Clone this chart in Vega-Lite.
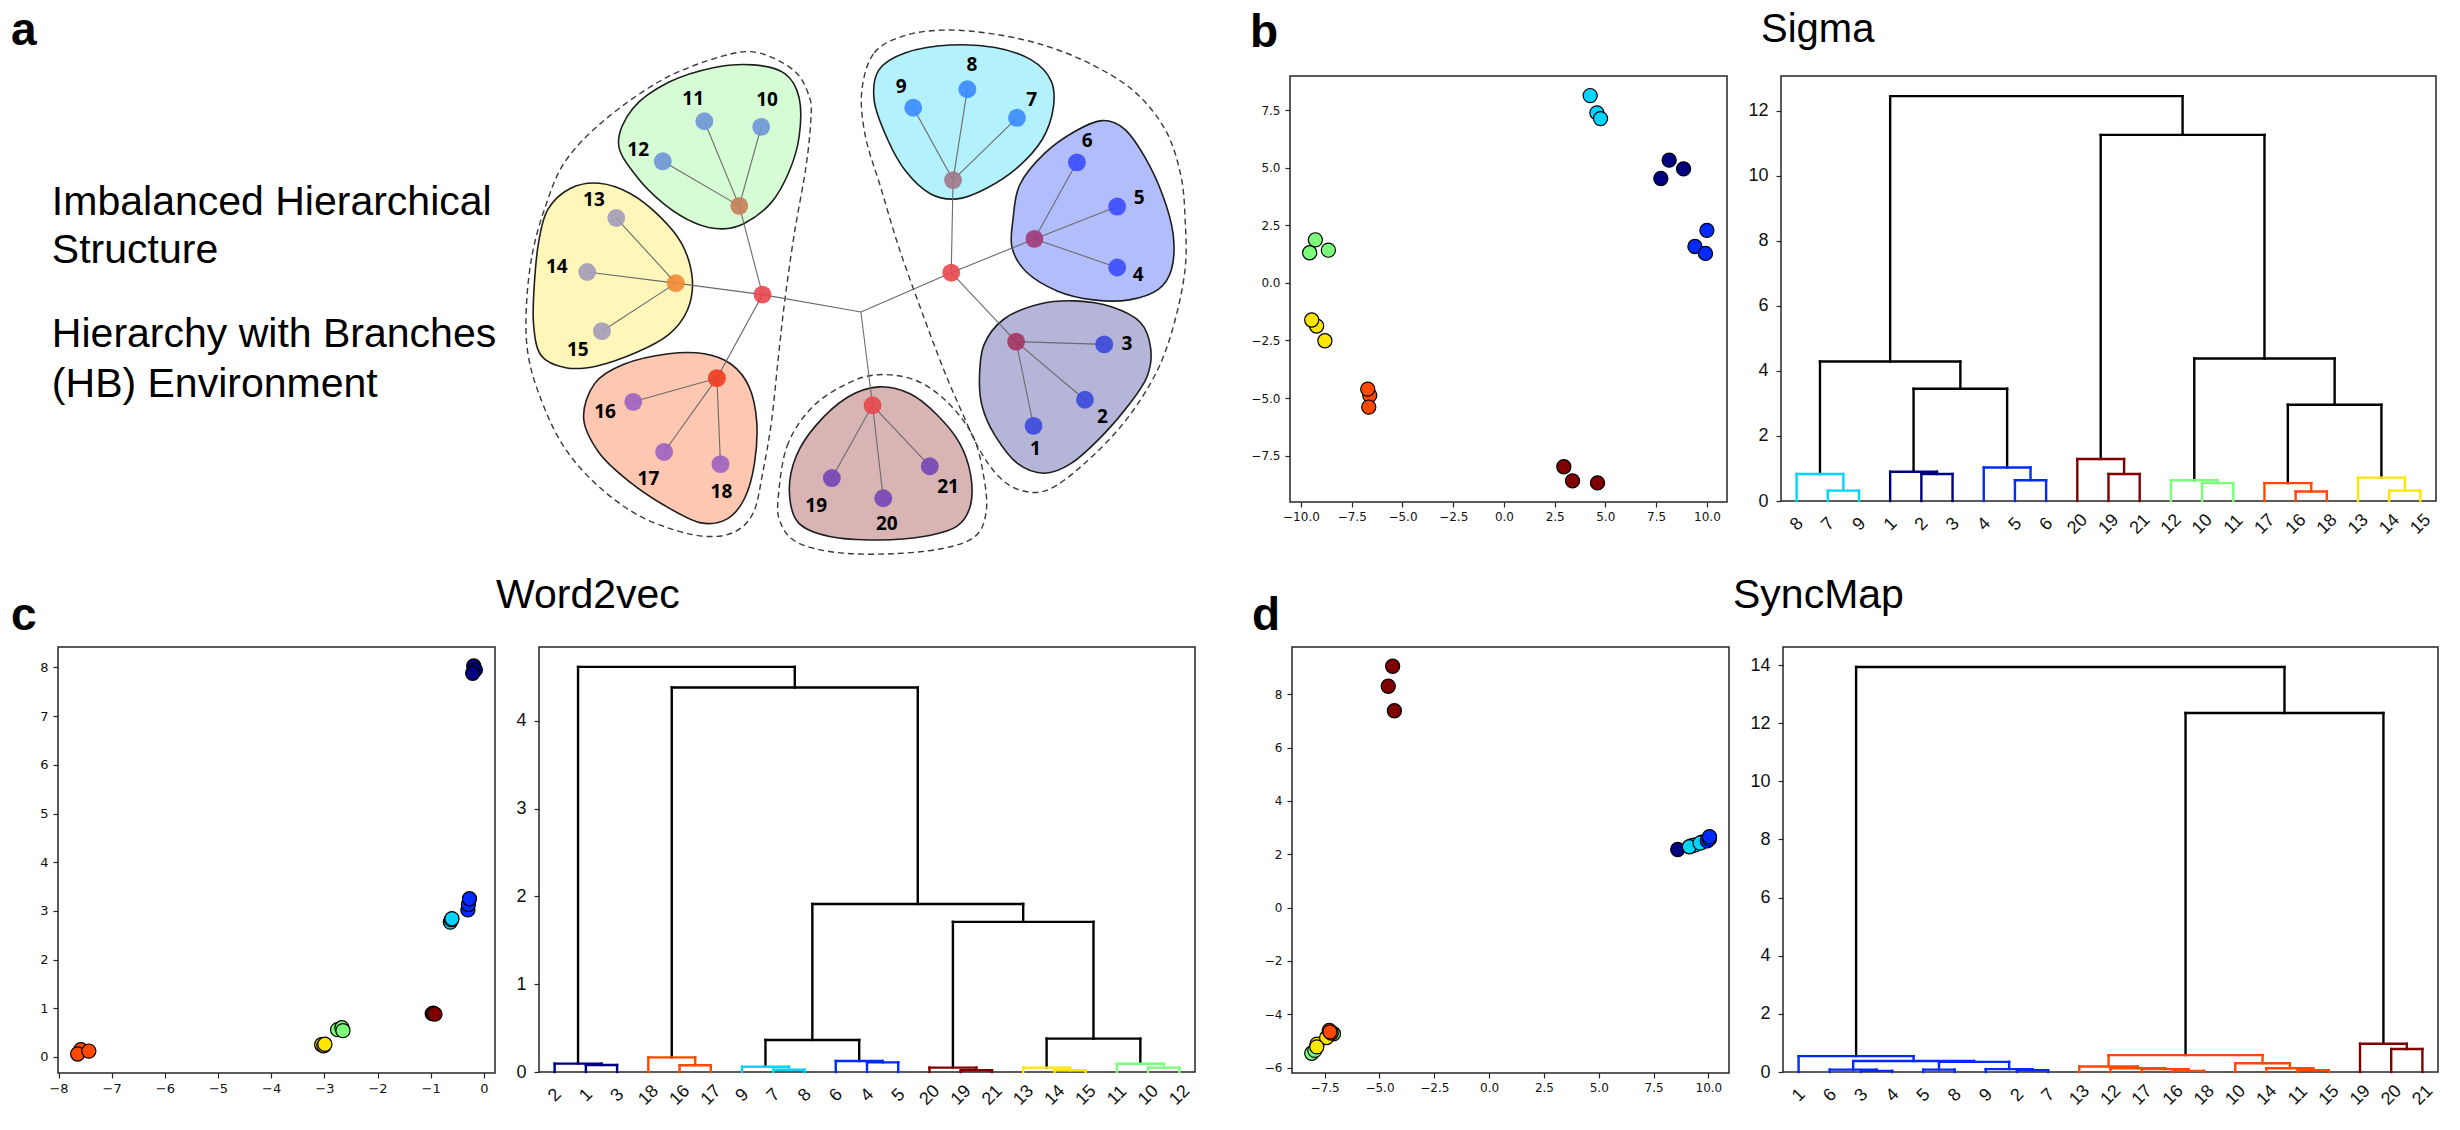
{
"$schema": "https://vega.github.io/schema/vega-lite/v6.json",
"background": "white",
"padding": {"left": 10, "top": 8, "right": 5, "bottom": 5},
"config": {
 "font": "Liberation Sans",
 "view": {"stroke": "#262626", "strokeWidth": 1.5},
 "axis": {"grid": false, "domain": false, "tickColor": "#262626", "tickWidth": 1.2, "labelColor": "#111", "labelFlush": false, "labelOverlap": false},
 "title": {"anchor": "start", "frame": "group", "baseline": "alphabetic", "color": "#000", "font": "Liberation Sans"}
},
"datasets": {
 "pts": [
  {"p":"b","g":"navy","x":8.14,"y":5.33},{"p":"b","g":"navy","x":8.85,"y":4.95},{"p":"b","g":"navy","x":7.73,"y":4.53},
  {"p":"b","g":"blue","x":10.0,"y":2.28},{"p":"b","g":"blue","x":9.41,"y":1.58},{"p":"b","g":"blue","x":9.93,"y":1.28},
  {"p":"b","g":"cyan","x":4.25,"y":8.13},{"p":"b","g":"cyan","x":4.58,"y":7.38},{"p":"b","g":"cyan","x":4.76,"y":7.13},
  {"p":"b","g":"green","x":-9.29,"y":1.87},{"p":"b","g":"green","x":-9.57,"y":1.31},{"p":"b","g":"green","x":-8.65,"y":1.42},
  {"p":"b","g":"yellow","x":-9.23,"y":-1.87},{"p":"b","g":"yellow","x":-9.47,"y":-1.61},{"p":"b","g":"yellow","x":-8.82,"y":-2.51},
  {"p":"b","g":"orange","x":-6.61,"y":-4.88},{"p":"b","g":"orange","x":-6.71,"y":-4.61},{"p":"b","g":"orange","x":-6.66,"y":-5.39},
  {"p":"b","g":"darkred","x":2.95,"y":-7.98},{"p":"b","g":"darkred","x":3.38,"y":-8.59},{"p":"b","g":"darkred","x":4.61,"y":-8.68},
  {"p":"c","g":"navy","x":-0.19,"y":8.03},{"p":"c","g":"navy","x":-0.16,"y":7.95},{"p":"c","g":"navy","x":-0.21,"y":7.88},
  {"p":"c","g":"blue","x":-0.30,"y":3.02},{"p":"c","g":"blue","x":-0.29,"y":3.13},{"p":"c","g":"blue","x":-0.27,"y":3.25},
  {"p":"c","g":"cyan","x":-0.63,"y":2.77},{"p":"c","g":"cyan","x":-0.61,"y":2.82},{"p":"c","g":"cyan","x":-0.60,"y":2.84},
  {"p":"c","g":"darkred","x":-0.97,"y":0.89},{"p":"c","g":"darkred","x":-0.95,"y":0.90},{"p":"c","g":"darkred","x":-0.92,"y":0.88},
  {"p":"c","g":"green","x":-2.75,"y":0.56},{"p":"c","g":"green","x":-2.67,"y":0.60},{"p":"c","g":"green","x":-2.65,"y":0.54},
  {"p":"c","g":"yellow","x":-3.05,"y":0.25},{"p":"c","g":"yellow","x":-3.01,"y":0.23},{"p":"c","g":"yellow","x":-2.99,"y":0.26},
  {"p":"c","g":"orange","x":-7.58,"y":0.15},{"p":"c","g":"orange","x":-7.64,"y":0.06},{"p":"c","g":"orange","x":-7.43,"y":0.12},
  {"p":"d","g":"darkred","x":-4.40,"y":9.05},{"p":"d","g":"darkred","x":-4.60,"y":8.30},{"p":"d","g":"darkred","x":-4.32,"y":7.38},
  {"p":"d","g":"navy","x":8.60,"y":2.18},{"p":"d","g":"navy","x":9.25,"y":2.32},{"p":"d","g":"navy","x":9.70,"y":2.45},
  {"p":"d","g":"cyan","x":9.40,"y":2.35},{"p":"d","g":"cyan","x":9.13,"y":2.28},{"p":"d","g":"cyan","x":9.62,"y":2.42},
  {"p":"d","g":"blue","x":9.95,"y":2.50},{"p":"d","g":"blue","x":10.05,"y":2.58},{"p":"d","g":"blue","x":10.05,"y":2.66},
  {"p":"d","g":"green","x":-8.09,"y":-5.46},{"p":"d","g":"green","x":-7.10,"y":-4.73},{"p":"d","g":"green","x":-7.95,"y":-5.35},
  {"p":"d","g":"yellow","x":-7.85,"y":-5.12},{"p":"d","g":"yellow","x":-7.41,"y":-4.87},{"p":"d","g":"yellow","x":-7.86,"y":-5.22},
  {"p":"d","g":"orange","x":-7.20,"y":-4.70},{"p":"d","g":"orange","x":-7.29,"y":-4.60},{"p":"d","g":"orange","x":-7.26,"y":-4.66}
 ],
 "links": [
  {"p":"b","c":"cyan","xl":15,"xr":25,"yl":0,"yr":0,"h":0.32},
  {"p":"b","c":"cyan","xl":5,"xr":20,"yl":0,"yr":0.32,"h":0.83},
  {"p":"b","c":"navy","xl":45,"xr":55,"yl":0,"yr":0,"h":0.83},
  {"p":"b","c":"navy","xl":35,"xr":50,"yl":0,"yr":0.83,"h":0.90},
  {"p":"b","c":"blue","xl":75,"xr":85,"yl":0,"yr":0,"h":0.64},
  {"p":"b","c":"blue","xl":65,"xr":80,"yl":0,"yr":0.64,"h":1.03},
  {"p":"b","c":"darkred","xl":105,"xr":115,"yl":0,"yr":0,"h":0.83},
  {"p":"b","c":"darkred","xl":95,"xr":110,"yl":0,"yr":0.83,"h":1.29},
  {"p":"b","c":"green","xl":135,"xr":145,"yl":0,"yr":0,"h":0.55},
  {"p":"b","c":"green","xl":125,"xr":140,"yl":0,"yr":0.55,"h":0.64},
  {"p":"b","c":"orange","xl":165,"xr":175,"yl":0,"yr":0,"h":0.29},
  {"p":"b","c":"orange","xl":155,"xr":170,"yl":0,"yr":0.29,"h":0.55},
  {"p":"b","c":"yellow","xl":195,"xr":205,"yl":0,"yr":0,"h":0.32},
  {"p":"b","c":"yellow","xl":185,"xr":200,"yl":0,"yr":0.32,"h":0.72},
  {"p":"b","c":"black","xl":42.5,"xr":72.5,"yl":0.90,"yr":1.03,"h":3.45},
  {"p":"b","c":"black","xl":12.5,"xr":57.5,"yl":0.83,"yr":3.45,"h":4.29},
  {"p":"b","c":"black","xl":162.5,"xr":192.5,"yl":0.55,"yr":0.72,"h":2.96},
  {"p":"b","c":"black","xl":132.5,"xr":177.5,"yl":0.64,"yr":2.96,"h":4.38},
  {"p":"b","c":"black","xl":102.5,"xr":155,"yl":1.29,"yr":4.38,"h":11.26},
  {"p":"b","c":"black","xl":35,"xr":128.75,"yl":4.29,"yr":11.26,"h":12.45},
  {"p":"c","c":"navy","xl":15,"xr":25,"yl":0,"yr":0,"h":0.08},
  {"p":"c","c":"navy","xl":5,"xr":20,"yl":0,"yr":0.08,"h":0.095},
  {"p":"c","c":"orange","xl":45,"xr":55,"yl":0,"yr":0,"h":0.077},
  {"p":"c","c":"orange","xl":35,"xr":50,"yl":0,"yr":0.077,"h":0.167},
  {"p":"c","c":"cyan","xl":75,"xr":85,"yl":0,"yr":0,"h":0.026},
  {"p":"c","c":"cyan","xl":65,"xr":80,"yl":0,"yr":0.026,"h":0.06},
  {"p":"c","c":"blue","xl":105,"xr":115,"yl":0,"yr":0,"h":0.11},
  {"p":"c","c":"blue","xl":95,"xr":110,"yl":0,"yr":0.11,"h":0.125},
  {"p":"c","c":"darkred","xl":135,"xr":145,"yl":0,"yr":0,"h":0.02},
  {"p":"c","c":"darkred","xl":125,"xr":140,"yl":0,"yr":0.02,"h":0.05},
  {"p":"c","c":"yellow","xl":165,"xr":175,"yl":0,"yr":0,"h":0.02},
  {"p":"c","c":"yellow","xl":155,"xr":170,"yl":0,"yr":0.02,"h":0.05},
  {"p":"c","c":"green","xl":195,"xr":205,"yl":0,"yr":0,"h":0.05},
  {"p":"c","c":"green","xl":185,"xr":200,"yl":0,"yr":0.05,"h":0.094},
  {"p":"c","c":"black","xl":72.5,"xr":102.5,"yl":0.06,"yr":0.125,"h":0.365},
  {"p":"c","c":"black","xl":162.5,"xr":192.5,"yl":0.05,"yr":0.094,"h":0.38},
  {"p":"c","c":"black","xl":132.5,"xr":177.5,"yl":0.05,"yr":0.38,"h":1.71},
  {"p":"c","c":"black","xl":87.5,"xr":155,"yl":0.365,"yr":1.71,"h":1.914},
  {"p":"c","c":"black","xl":42.5,"xr":121.25,"yl":0.167,"yr":1.914,"h":4.378},
  {"p":"c","c":"black","xl":12.5,"xr":81.875,"yl":0.095,"yr":4.378,"h":4.614},
  {"p":"d","c":"blue","xl":25,"xr":35,"yl":0,"yr":0,"h":0.04},
  {"p":"d","c":"blue","xl":15,"xr":30,"yl":0,"yr":0.04,"h":0.08},
  {"p":"d","c":"blue","xl":45,"xr":55,"yl":0,"yr":0,"h":0.08},
  {"p":"d","c":"blue","xl":75,"xr":85,"yl":0,"yr":0,"h":0.06},
  {"p":"d","c":"blue","xl":65,"xr":80,"yl":0,"yr":0.06,"h":0.10},
  {"p":"d","c":"blue","xl":50,"xr":72.5,"yl":0.08,"yr":0.10,"h":0.35},
  {"p":"d","c":"blue","xl":22.5,"xr":61.25,"yl":0.08,"yr":0.35,"h":0.376},
  {"p":"d","c":"blue","xl":5,"xr":41.875,"yl":0,"yr":0.376,"h":0.545},
  {"p":"d","c":"orange","xl":125,"xr":135,"yl":0,"yr":0,"h":0.04},
  {"p":"d","c":"orange","xl":115,"xr":130,"yl":0,"yr":0.04,"h":0.10},
  {"p":"d","c":"orange","xl":105,"xr":122.5,"yl":0,"yr":0.10,"h":0.13},
  {"p":"d","c":"orange","xl":95,"xr":113.75,"yl":0,"yr":0.13,"h":0.19},
  {"p":"d","c":"orange","xl":165,"xr":175,"yl":0,"yr":0,"h":0.06},
  {"p":"d","c":"orange","xl":155,"xr":170,"yl":0,"yr":0.06,"h":0.13},
  {"p":"d","c":"orange","xl":145,"xr":162.5,"yl":0,"yr":0.13,"h":0.30},
  {"p":"d","c":"orange","xl":104.375,"xr":153.75,"yl":0.19,"yr":0.30,"h":0.58},
  {"p":"d","c":"darkred","xl":195,"xr":205,"yl":0,"yr":0,"h":0.79},
  {"p":"d","c":"darkred","xl":185,"xr":200,"yl":0,"yr":0.79,"h":0.97},
  {"p":"d","c":"black","xl":129.06,"xr":192.5,"yl":0.58,"yr":0.97,"h":12.35},
  {"p":"d","c":"black","xl":23.44,"xr":160.78,"yl":0.545,"yr":12.35,"h":13.93}
 ],
 "nodes": [
  {"n":"hub","grp":"hub","x":760,"y":885},
  {"n":"L","grp":"red","x":540,"y":835},{"n":"R","grp":"red","x":962,"y":772},{"n":"B","grp":"red","x":786,"y":1153},
  {"n":"G","grp":"cG","x":488,"y":580},{"n":"Y","grp":"cY","x":346,"y":802},{"n":"O","grp":"cO","x":438,"y":1075},
  {"n":"C","grp":"cC","x":966,"y":506},{"n":"P","grp":"cP","x":1148,"y":675},{"n":"N","grp":"cN","x":1107,"y":970},
  {"n":"1","grp":"lN","x":1146,"y":1212},{"n":"2","grp":"lN","x":1261,"y":1137},{"n":"3","grp":"lN","x":1304,"y":978},
  {"n":"4","grp":"lP","x":1333,"y":757},{"n":"5","grp":"lP","x":1333,"y":582},{"n":"6","grp":"lP","x":1243,"y":455},
  {"n":"7","grp":"lC","x":1109,"y":327},{"n":"8","grp":"lC","x":998,"y":245},{"n":"9","grp":"lC","x":877,"y":298},
  {"n":"10","grp":"lG","x":537,"y":353},{"n":"11","grp":"lG","x":410,"y":337},{"n":"12","grp":"lG","x":317,"y":452},
  {"n":"13","grp":"lY","x":213,"y":615},{"n":"14","grp":"lY","x":148,"y":770},{"n":"15","grp":"lY","x":181,"y":940},
  {"n":"16","grp":"lO","x":251,"y":1143},{"n":"17","grp":"lO","x":320,"y":1287},{"n":"18","grp":"lO","x":446,"y":1322},
  {"n":"19","grp":"lB","x":695,"y":1362},{"n":"20","grp":"lB","x":810,"y":1420},{"n":"21","grp":"lB","x":914,"y":1328}
 ],
 "edges": [
  {"a":"hub","b":"L"},{"a":"hub","b":"R"},{"a":"hub","b":"B"},
  {"a":"L","b":"G"},{"a":"L","b":"Y"},{"a":"L","b":"O"},
  {"a":"R","b":"C"},{"a":"R","b":"P"},{"a":"R","b":"N"},
  {"a":"G","b":"10"},{"a":"G","b":"11"},{"a":"G","b":"12"},
  {"a":"Y","b":"13"},{"a":"Y","b":"14"},{"a":"Y","b":"15"},
  {"a":"O","b":"16"},{"a":"O","b":"17"},{"a":"O","b":"18"},
  {"a":"B","b":"19"},{"a":"B","b":"20"},{"a":"B","b":"21"},
  {"a":"C","b":"7"},{"a":"C","b":"8"},{"a":"C","b":"9"},
  {"a":"P","b":"4"},{"a":"P","b":"5"},{"a":"P","b":"6"},
  {"a":"N","b":"1"},{"a":"N","b":"2"},{"a":"N","b":"3"}
 ],
 "nlabels": [
  {"t":"1","x":1150,"y":1278},{"t":"2","x":1300,"y":1188},{"t":"3","x":1355,"y":978},{"t":"4","x":1380,"y":778},
  {"t":"5","x":1382,"y":558},{"t":"6","x":1266,"y":395},{"t":"7","x":1142,"y":277},{"t":"8","x":1008,"y":175},
  {"t":"9","x":850,"y":238},{"t":"10","x":550,"y":277},{"t":"11","x":385,"y":272},{"t":"12","x":262,"y":420},
  {"t":"13","x":163,"y":562},{"t":"14","x":80,"y":755},{"t":"15","x":127,"y":995},{"t":"16","x":188,"y":1172},
  {"t":"17","x":285,"y":1365},{"t":"18","x":448,"y":1403},{"t":"19","x":660,"y":1443},{"t":"20","x":818,"y":1495},
  {"t":"21","x":955,"y":1388}
 ],
 "texts": [
  {"t":"Imbalanced Hierarchical","x":-1049,"y":605},
  {"t":"Structure","x":-1049,"y":745},
  {"t":"Hierarchy with Branches","x":-1049,"y":985},
  {"t":"(HB) Environment","x":-1049,"y":1128}
 ],
 "blobs": [
  {"id":"G","i":0,"x":218,"y":400},{"id":"G","i":1,"x":250,"y":300},{"id":"G","i":2,"x":330,"y":225},{"id":"G","i":3,"x":430,"y":183},{"id":"G","i":4,"x":520,"y":175},{"id":"G","i":5,"x":590,"y":200},{"id":"G","i":6,"x":622,"y":270},{"id":"G","i":7,"x":622,"y":380},{"id":"G","i":8,"x":600,"y":480},{"id":"G","i":9,"x":560,"y":570},{"id":"G","i":10,"x":500,"y":630},{"id":"G","i":11,"x":450,"y":646},{"id":"G","i":12,"x":390,"y":630},{"id":"G","i":13,"x":320,"y":575},{"id":"G","i":14,"x":255,"y":490},
  {"id":"Y","i":0,"x":40,"y":680},{"id":"Y","i":1,"x":60,"y":590},{"id":"Y","i":2,"x":110,"y":530},{"id":"Y","i":3,"x":175,"y":515},{"id":"Y","i":4,"x":245,"y":545},{"id":"Y","i":5,"x":310,"y":610},{"id":"Y","i":6,"x":360,"y":690},{"id":"Y","i":7,"x":383,"y":790},{"id":"Y","i":8,"x":372,"y":880},{"id":"Y","i":9,"x":330,"y":950},{"id":"Y","i":10,"x":260,"y":1000},{"id":"Y","i":11,"x":170,"y":1040},{"id":"Y","i":12,"x":100,"y":1045},{"id":"Y","i":13,"x":45,"y":1010},{"id":"Y","i":14,"x":28,"y":920},{"id":"Y","i":15,"x":30,"y":800},
  {"id":"O","i":0,"x":140,"y":1190},{"id":"O","i":1,"x":165,"y":1090},{"id":"O","i":2,"x":230,"y":1035},{"id":"O","i":3,"x":330,"y":1005},{"id":"O","i":4,"x":410,"y":1005},{"id":"O","i":5,"x":470,"y":1035},{"id":"O","i":6,"x":510,"y":1100},{"id":"O","i":7,"x":527,"y":1200},{"id":"O","i":8,"x":522,"y":1320},{"id":"O","i":9,"x":500,"y":1420},{"id":"O","i":10,"x":460,"y":1480},{"id":"O","i":11,"x":400,"y":1490},{"id":"O","i":12,"x":320,"y":1440},{"id":"O","i":13,"x":240,"y":1370},{"id":"O","i":14,"x":175,"y":1290},
  {"id":"B","i":0,"x":600,"y":1400},{"id":"B","i":1,"x":615,"y":1300},{"id":"B","i":2,"x":660,"y":1210},{"id":"B","i":3,"x":730,"y":1130},{"id":"B","i":4,"x":800,"y":1100},{"id":"B","i":5,"x":870,"y":1120},{"id":"B","i":6,"x":930,"y":1180},{"id":"B","i":7,"x":980,"y":1260},{"id":"B","i":8,"x":1005,"y":1350},{"id":"B","i":9,"x":1005,"y":1440},{"id":"B","i":10,"x":975,"y":1500},{"id":"B","i":11,"x":900,"y":1530},{"id":"B","i":12,"x":800,"y":1540},{"id":"B","i":13,"x":690,"y":1530},{"id":"B","i":14,"x":620,"y":1490},
  {"id":"C","i":0,"x":790,"y":280},{"id":"C","i":1,"x":800,"y":190},{"id":"C","i":2,"x":860,"y":140},{"id":"C","i":3,"x":960,"y":118},{"id":"C","i":4,"x":1060,"y":125},{"id":"C","i":5,"x":1140,"y":160},{"id":"C","i":6,"x":1185,"y":220},{"id":"C","i":7,"x":1190,"y":300},{"id":"C","i":8,"x":1165,"y":390},{"id":"C","i":9,"x":1110,"y":470},{"id":"C","i":10,"x":1040,"y":530},{"id":"C","i":11,"x":975,"y":560},{"id":"C","i":12,"x":915,"y":545},{"id":"C","i":13,"x":860,"y":480},{"id":"C","i":14,"x":820,"y":390},
  {"id":"P","i":0,"x":1098,"y":700},{"id":"P","i":1,"x":1100,"y":620},{"id":"P","i":2,"x":1115,"y":520},{"id":"P","i":3,"x":1170,"y":430},{"id":"P","i":4,"x":1240,"y":365},{"id":"P","i":5,"x":1300,"y":335},{"id":"P","i":6,"x":1350,"y":360},{"id":"P","i":7,"x":1395,"y":440},{"id":"P","i":8,"x":1435,"y":550},{"id":"P","i":9,"x":1458,"y":660},{"id":"P","i":10,"x":1455,"y":760},{"id":"P","i":11,"x":1425,"y":820},{"id":"P","i":12,"x":1360,"y":850},{"id":"P","i":13,"x":1280,"y":850},{"id":"P","i":14,"x":1200,"y":825},{"id":"P","i":15,"x":1130,"y":770},
  {"id":"N","i":0,"x":1032,"y":1160},{"id":"N","i":1,"x":1025,"y":1080},{"id":"N","i":2,"x":1035,"y":980},{"id":"N","i":3,"x":1080,"y":905},{"id":"N","i":4,"x":1160,"y":862},{"id":"N","i":5,"x":1240,"y":853},{"id":"N","i":6,"x":1320,"y":870},{"id":"N","i":7,"x":1385,"y":915},{"id":"N","i":8,"x":1408,"y":990},{"id":"N","i":9,"x":1400,"y":1070},{"id":"N","i":10,"x":1360,"y":1150},{"id":"N","i":11,"x":1300,"y":1240},{"id":"N","i":12,"x":1230,"y":1320},{"id":"N","i":13,"x":1170,"y":1348},{"id":"N","i":14,"x":1110,"y":1320},{"id":"N","i":15,"x":1060,"y":1240}
 ],
 "dashes": [
  {"id":"L","i":0,"x":12,"y":870},{"id":"L","i":1,"x":25,"y":720},{"id":"L","i":2,"x":55,"y":580},{"id":"L","i":3,"x":100,"y":450},{"id":"L","i":4,"x":190,"y":330},{"id":"L","i":5,"x":320,"y":215},{"id":"L","i":6,"x":450,"y":150},{"id":"L","i":7,"x":530,"y":140},{"id":"L","i":8,"x":611,"y":192},{"id":"L","i":9,"x":645,"y":268},{"id":"L","i":10,"x":648,"y":335},{"id":"L","i":11,"x":637,"y":469},{"id":"L","i":12,"x":611,"y":661},{"id":"L","i":13,"x":590,"y":850},{"id":"L","i":14,"x":575,"y":1020},{"id":"L","i":15,"x":560,"y":1200},{"id":"L","i":16,"x":540,"y":1350},{"id":"L","i":17,"x":520,"y":1460},{"id":"L","i":18,"x":480,"y":1515},{"id":"L","i":19,"x":420,"y":1530},{"id":"L","i":20,"x":340,"y":1510},{"id":"L","i":21,"x":250,"y":1460},{"id":"L","i":22,"x":160,"y":1370},{"id":"L","i":23,"x":90,"y":1260},{"id":"L","i":24,"x":40,"y":1120},{"id":"L","i":25,"x":15,"y":1000},
  {"id":"R","i":0,"x":762,"y":250},{"id":"R","i":1,"x":790,"y":140},{"id":"R","i":2,"x":860,"y":90},{"id":"R","i":3,"x":950,"y":75},{"id":"R","i":4,"x":1050,"y":85},{"id":"R","i":5,"x":1160,"y":115},{"id":"R","i":6,"x":1270,"y":170},{"id":"R","i":7,"x":1370,"y":250},{"id":"R","i":8,"x":1440,"y":360},{"id":"R","i":9,"x":1475,"y":490},{"id":"R","i":10,"x":1485,"y":620},{"id":"R","i":11,"x":1485,"y":760},{"id":"R","i":12,"x":1460,"y":920},{"id":"R","i":13,"x":1420,"y":1060},{"id":"R","i":14,"x":1350,"y":1200},{"id":"R","i":15,"x":1260,"y":1320},{"id":"R","i":16,"x":1180,"y":1395},{"id":"R","i":17,"x":1120,"y":1398},{"id":"R","i":18,"x":1070,"y":1360},{"id":"R","i":19,"x":1025,"y":1280},{"id":"R","i":20,"x":985,"y":1170},{"id":"R","i":21,"x":945,"y":1050},{"id":"R","i":22,"x":895,"y":880},{"id":"R","i":23,"x":845,"y":700},{"id":"R","i":24,"x":805,"y":530},{"id":"R","i":25,"x":770,"y":380},
  {"id":"D","i":0,"x":575,"y":1420},{"id":"D","i":1,"x":595,"y":1270},{"id":"D","i":2,"x":650,"y":1160},{"id":"D","i":3,"x":730,"y":1090},{"id":"D","i":4,"x":800,"y":1065},{"id":"D","i":5,"x":880,"y":1080},{"id":"D","i":6,"x":950,"y":1140},{"id":"D","i":7,"x":1010,"y":1240},{"id":"D","i":8,"x":1035,"y":1360},{"id":"D","i":9,"x":1040,"y":1460},{"id":"D","i":10,"x":1015,"y":1530},{"id":"D","i":11,"x":940,"y":1565},{"id":"D","i":12,"x":820,"y":1580},{"id":"D","i":13,"x":700,"y":1575},{"id":"D","i":14,"x":615,"y":1545},{"id":"D","i":15,"x":580,"y":1490}
 ]
},
"spacing": 17,
"resolve": {"scale": {"color": "independent", "fill": "independent"}},
"vconcat": [
 {
  "bounds": "flush",
  "spacing": 54,
  "resolve": {"scale": {"color": "independent", "fill": "independent"}},
  "hconcat": [
   {
    "width": 1178, "height": 426,
    "view": {"stroke": null},
    "title": {"text": "a", "fontSize": 46, "fontWeight": "bold", "dx": -47, "offset": -28},
    "layer": [
     {
      "data": {"name": "dashes"},
      "mark": {"type": "line", "interpolate": "cardinal-closed", "stroke": "#3a3a3a", "strokeWidth": 1.4, "strokeDash": [6, 4]},
      "encoding": {
       "x": {"field": "x", "type": "quantitative", "scale": {"domain": [-1035.3, 1598.7], "nice": false, "zero": false}, "axis": null},
       "y": {"field": "y", "type": "quantitative", "scale": {"domain": [206.9, 1430.8], "nice": false, "zero": false, "reverse": true}, "axis": null},
       "detail": {"field": "id"},
       "order": {"field": "i", "type": "quantitative"}
      }
     },
     {
      "data": {"name": "blobs"},
      "mark": {"type": "line", "interpolate": "cardinal-closed", "stroke": "#1e1e1e", "strokeWidth": 1.6},
      "encoding": {
       "x": {"field": "x", "type": "quantitative", "scale": {"domain": [-1035.3, 1598.7], "nice": false, "zero": false}, "axis": null},
       "y": {"field": "y", "type": "quantitative", "scale": {"domain": [206.9, 1430.8], "nice": false, "zero": false, "reverse": true}, "axis": null},
       "detail": {"field": "id"},
       "order": {"field": "i", "type": "quantitative"},
       "fill": {"field": "id", "type": "nominal", "legend": null, "scale": {"domain": ["G","Y","O","B","C","P","N"], "range": ["#d6fcd6","#fff7b9","#fdc7b1","#d9b4b4","#b3f1fc","#b2befb","#b4b5d8"]}}
      }
     },
     {
      "data": {"name": "edges"},
      "transform": [
       {"lookup": "a", "from": {"data": {"name": "nodes"}, "key": "n", "fields": ["x", "y"]}, "as": ["x1", "y1"]},
       {"lookup": "b", "from": {"data": {"name": "nodes"}, "key": "n", "fields": ["x", "y"]}, "as": ["x2", "y2"]}
      ],
      "mark": {"type": "rule", "color": "#6a6a6a", "strokeWidth": 1.1},
      "encoding": {
       "x": {"field": "x1", "type": "quantitative", "scale": {"domain": [-1035.3, 1598.7], "nice": false, "zero": false}, "axis": null},
       "y": {"field": "y1", "type": "quantitative", "scale": {"domain": [206.9, 1430.8], "nice": false, "zero": false, "reverse": true}, "axis": null},
       "x2": {"field": "x2"},
       "y2": {"field": "y2"}
      }
     },
     {
      "data": {"name": "nodes"},
      "transform": [{"filter": "datum.grp != 'hub'"}],
      "mark": {"type": "point", "filled": true, "size": 320, "opacity": 0.9},
      "encoding": {
       "x": {"field": "x", "type": "quantitative", "scale": {"domain": [-1035.3, 1598.7], "nice": false, "zero": false}, "axis": null},
       "y": {"field": "y", "type": "quantitative", "scale": {"domain": [206.9, 1430.8], "nice": false, "zero": false, "reverse": true}, "axis": null},
       "color": {"field": "grp", "type": "nominal", "legend": null, "scale": {"domain": ["red","cG","cY","cO","cC","cP","cN","lG","lY","lO","lB","lC","lP","lN"], "range": ["#e8474f","#c57d55","#f08a35","#f03a22","#a0788a","#a23a78","#a23560","#6f95d8","#a39bba","#9c62c2","#7446b6","#3a8aff","#3b4dff","#3b48dc"]}}
      }
     },
     {
      "data": {"name": "nlabels"},
      "mark": {"type": "text", "font": "Open Sans", "fontWeight": "bold", "fontSize": 19, "align": "center", "baseline": "middle", "color": "#000"},
      "encoding": {
       "x": {"field": "x", "type": "quantitative", "scale": {"domain": [-1035.3, 1598.7], "nice": false, "zero": false}, "axis": null},
       "y": {"field": "y", "type": "quantitative", "scale": {"domain": [206.9, 1430.8], "nice": false, "zero": false, "reverse": true}, "axis": null},
       "text": {"field": "t"}
      }
     },
     {
      "data": {"name": "texts"},
      "mark": {"type": "text", "font": "Liberation Sans", "fontSize": 41, "align": "left", "baseline": "alphabetic", "color": "#000"},
      "encoding": {
       "x": {"field": "x", "type": "quantitative", "scale": {"domain": [-1035.3, 1598.7], "nice": false, "zero": false}, "axis": null},
       "y": {"field": "y", "type": "quantitative", "scale": {"domain": [206.9, 1430.8], "nice": false, "zero": false, "reverse": true}, "axis": null},
       "text": {"field": "t"}
      }
     }
    ]
   },
   {
    "width": 437, "height": 426,
    "title": {"text": "b", "fontSize": 46, "fontWeight": "bold", "dx": -40, "offset": 19},
    "data": {"name": "pts"},
    "transform": [{"filter": "datum.p == 'b'"}],
    "mark": {"type": "point", "filled": true, "size": 200, "stroke": "#000", "strokeWidth": 1.2, "opacity": 1},
    "encoding": {
     "x": {"field": "x", "type": "quantitative", "scale": {"domain": [-10.54, 10.99], "nice": false, "zero": false}, "axis": {"title": null, "values": [-10, -7.5, -5, -2.5, 0, 2.5, 5, 7.5, 10], "format": ".1f", "labelFont": "DejaVu Sans", "labelFontSize": 12, "tickSize": 5, "labelPadding": 4}},
     "y": {"field": "y", "type": "quantitative", "scale": {"domain": [-9.51, 8.98], "nice": false, "zero": false}, "axis": {"title": null, "values": [-7.5, -5, -2.5, 0, 2.5, 5, 7.5], "format": ".1f", "labelFont": "DejaVu Sans", "labelFontSize": 12, "tickSize": 5, "labelPadding": 5}},
     "fill": {"field": "g", "type": "nominal", "legend": null, "scale": {"domain": ["navy","blue","cyan","green","yellow","orange","darkred"], "range": ["#000080","#002aff","#00d4ff","#7bff7b","#ffe600","#ff4900","#800000"]}}
    }
   },
   {
    "width": 655, "height": 425,
    "title": {"text": "Sigma", "fontSize": 40, "fontWeight": "normal", "dx": -20, "offset": 26},
    "data": {"name": "links"},
    "transform": [{"filter": "datum.p == 'b'"}],
    "encoding": {
     "color": {"field": "c", "type": "nominal", "legend": null, "scale": {"domain": ["navy","blue","cyan","green","yellow","orange","darkred","black"], "range": ["#000080","#002aff","#00d4ff","#7bff7b","#ffe600","#ff4900","#800000","#000000"]}}
    },
    "layer": [
     {
      "mark": {"type": "rule", "strokeWidth": 2.4, "strokeCap": "square"},
      "encoding": {
       "x": {"field": "xl", "type": "quantitative", "scale": {"domain": [0, 210], "nice": false, "zero": false}, "axis": {"title": null, "values": [5,15,25,35,45,55,65,75,85,95,105,115,125,135,145,155,165,175,185,195,205], "labelExpr": "['8','7','9','1','2','3','4','5','6','20','19','21','12','10','11','17','16','18','13','14','15'][round((datum.value-5)/10)]", "labelAngle": -45, "labelAlign": "center", "labelBaseline": "middle", "labelPadding": 23, "ticks": false, "tickSize": 0, "labelFontSize": 18}},
       "y": {"field": "yl", "type": "quantitative", "scale": {"domain": [0, 13.07], "nice": false, "zero": false}, "axis": {"title": null, "values": [0,2,4,6,8,10,12], "labelFontSize": 18, "tickSize": 5, "labelPadding": 8}},
       "y2": {"field": "h"}
      }
     },
     {
      "mark": {"type": "rule", "strokeWidth": 2.4, "strokeCap": "square"},
      "encoding": {
       "x": {"field": "xr", "type": "quantitative", "scale": {"domain": [0, 210], "nice": false, "zero": false}, "axis": {"title": null, "values": [5,15,25,35,45,55,65,75,85,95,105,115,125,135,145,155,165,175,185,195,205], "labelExpr": "['8','7','9','1','2','3','4','5','6','20','19','21','12','10','11','17','16','18','13','14','15'][round((datum.value-5)/10)]", "labelAngle": -45, "labelAlign": "center", "labelBaseline": "middle", "labelPadding": 23, "ticks": false, "tickSize": 0, "labelFontSize": 18}},
       "y": {"field": "yr", "type": "quantitative", "scale": {"domain": [0, 13.07], "nice": false, "zero": false}, "axis": {"title": null, "values": [0,2,4,6,8,10,12], "labelFontSize": 18, "tickSize": 5, "labelPadding": 8}},
       "y2": {"field": "h"}
      }
     },
     {
      "mark": {"type": "rule", "strokeWidth": 2.4, "strokeCap": "square"},
      "encoding": {
       "x": {"field": "xl", "type": "quantitative", "scale": {"domain": [0, 210], "nice": false, "zero": false}, "axis": {"title": null, "values": [5,15,25,35,45,55,65,75,85,95,105,115,125,135,145,155,165,175,185,195,205], "labelExpr": "['8','7','9','1','2','3','4','5','6','20','19','21','12','10','11','17','16','18','13','14','15'][round((datum.value-5)/10)]", "labelAngle": -45, "labelAlign": "center", "labelBaseline": "middle", "labelPadding": 23, "ticks": false, "tickSize": 0, "labelFontSize": 18}},
       "x2": {"field": "xr"},
       "y": {"field": "h", "type": "quantitative", "scale": {"domain": [0, 13.07], "nice": false, "zero": false}, "axis": {"title": null, "values": [0,2,4,6,8,10,12], "labelFontSize": 18, "tickSize": 5, "labelPadding": 8}}
      }
     }
    ]
   }
  ]
 },
 {
  "spacing": 55,
  "resolve": {"scale": {"color": "independent", "fill": "independent"}},
  "hconcat": [
   {
    "bounds": "flush",
    "spacing": 44,
    "resolve": {"scale": {"color": "independent", "fill": "independent"}},
    "hconcat": [
     {
      "width": 437, "height": 426,
      "title": {"text": "c", "fontSize": 46, "fontWeight": "bold", "dx": -47, "offset": 7},
      "data": {"name": "pts"},
      "transform": [{"filter": "datum.p == 'c'"}],
      "mark": {"type": "point", "filled": true, "size": 200, "stroke": "#000", "strokeWidth": 1.2, "opacity": 1},
      "encoding": {
       "x": {"field": "x", "type": "quantitative", "scale": {"domain": [-8.01, 0.21], "nice": false, "zero": false}, "axis": {"title": null, "values": [-8,-7,-6,-5,-4,-3,-2,-1,0], "format": "d", "labelFont": "DejaVu Sans", "labelFontSize": 13, "tickSize": 5, "labelPadding": 4}},
       "y": {"field": "y", "type": "quantitative", "scale": {"domain": [-0.33, 8.42], "nice": false, "zero": false}, "axis": {"title": null, "values": [0,1,2,3,4,5,6,7,8], "format": "d", "labelFont": "DejaVu Sans", "labelFontSize": 13, "tickSize": 5, "labelPadding": 5}},
       "fill": {"field": "g", "type": "nominal", "legend": null, "scale": {"domain": ["navy","blue","cyan","green","yellow","orange","darkred"], "range": ["#000080","#002aff","#00d4ff","#7bff7b","#ffe600","#ff4900","#800000"]}}
      }
     },
     {
      "width": 656, "height": 425,
      "title": {"text": "Word2vec", "fontSize": 41, "fontWeight": "normal", "dx": -43, "offset": 30},
      "data": {"name": "links"},
      "transform": [{"filter": "datum.p == 'c'"}],
      "encoding": {
       "color": {"field": "c", "type": "nominal", "legend": null, "scale": {"domain": ["navy","blue","cyan","green","yellow","orange","darkred","black"], "range": ["#000080","#002aff","#00d4ff","#7bff7b","#ffe600","#ff4900","#800000","#000000"]}}
      },
      "layer": [
       {
        "mark": {"type": "rule", "strokeWidth": 2.4, "strokeCap": "square"},
        "encoding": {
         "x": {"field": "xl", "type": "quantitative", "scale": {"domain": [0, 210], "nice": false, "zero": false}, "axis": {"title": null, "values": [5,15,25,35,45,55,65,75,85,95,105,115,125,135,145,155,165,175,185,195,205], "labelExpr": "['2','1','3','18','16','17','9','7','8','6','4','5','20','19','21','13','14','15','11','10','12'][round((datum.value-5)/10)]", "labelAngle": -45, "labelAlign": "center", "labelBaseline": "middle", "labelPadding": 23, "ticks": false, "tickSize": 0, "labelFontSize": 18}},
         "y": {"field": "yl", "type": "quantitative", "scale": {"domain": [0, 4.84], "nice": false, "zero": false}, "axis": {"title": null, "values": [0,1,2,3,4], "labelFontSize": 18, "tickSize": 5, "labelPadding": 8}},
         "y2": {"field": "h"}
        }
       },
       {
        "mark": {"type": "rule", "strokeWidth": 2.4, "strokeCap": "square"},
        "encoding": {
         "x": {"field": "xr", "type": "quantitative", "scale": {"domain": [0, 210], "nice": false, "zero": false}, "axis": {"title": null, "values": [5,15,25,35,45,55,65,75,85,95,105,115,125,135,145,155,165,175,185,195,205], "labelExpr": "['2','1','3','18','16','17','9','7','8','6','4','5','20','19','21','13','14','15','11','10','12'][round((datum.value-5)/10)]", "labelAngle": -45, "labelAlign": "center", "labelBaseline": "middle", "labelPadding": 23, "ticks": false, "tickSize": 0, "labelFontSize": 18}},
         "y": {"field": "yr", "type": "quantitative", "scale": {"domain": [0, 4.84], "nice": false, "zero": false}, "axis": {"title": null, "values": [0,1,2,3,4], "labelFontSize": 18, "tickSize": 5, "labelPadding": 8}},
         "y2": {"field": "h"}
        }
       },
       {
        "mark": {"type": "rule", "strokeWidth": 2.4, "strokeCap": "square"},
        "encoding": {
         "x": {"field": "xl", "type": "quantitative", "scale": {"domain": [0, 210], "nice": false, "zero": false}, "axis": {"title": null, "values": [5,15,25,35,45,55,65,75,85,95,105,115,125,135,145,155,165,175,185,195,205], "labelExpr": "['2','1','3','18','16','17','9','7','8','6','4','5','20','19','21','13','14','15','11','10','12'][round((datum.value-5)/10)]", "labelAngle": -45, "labelAlign": "center", "labelBaseline": "middle", "labelPadding": 23, "ticks": false, "tickSize": 0, "labelFontSize": 18}},
         "x2": {"field": "xr"},
         "y": {"field": "h", "type": "quantitative", "scale": {"domain": [0, 4.84], "nice": false, "zero": false}, "axis": {"title": null, "values": [0,1,2,3,4], "labelFontSize": 18, "tickSize": 5, "labelPadding": 8}}
        }
       }
      ]
     }
    ]
   },
   {
    "bounds": "flush",
    "spacing": 54,
    "resolve": {"scale": {"color": "independent", "fill": "independent"}},
    "hconcat": [
     {
      "width": 437, "height": 426,
      "title": {"text": "d", "fontSize": 46, "fontWeight": "bold", "dx": -40, "offset": 7},
      "data": {"name": "pts"},
      "transform": [{"filter": "datum.p == 'd'"}],
      "mark": {"type": "point", "filled": true, "size": 200, "stroke": "#000", "strokeWidth": 1.2, "opacity": 1},
      "encoding": {
       "x": {"field": "x", "type": "quantitative", "scale": {"domain": [-8.99, 10.94], "nice": false, "zero": false}, "axis": {"title": null, "values": [-7.5, -5, -2.5, 0, 2.5, 5, 7.5, 10], "format": ".1f", "labelFont": "DejaVu Sans", "labelFontSize": 12, "tickSize": 5, "labelPadding": 4}},
       "y": {"field": "y", "type": "quantitative", "scale": {"domain": [-6.2, 9.77], "nice": false, "zero": false}, "axis": {"title": null, "values": [-6,-4,-2,0,2,4,6,8], "format": "d", "labelFont": "DejaVu Sans", "labelFontSize": 12, "tickSize": 5, "labelPadding": 5}},
       "fill": {"field": "g", "type": "nominal", "legend": null, "scale": {"domain": ["navy","blue","cyan","green","yellow","orange","darkred"], "range": ["#000080","#002aff","#00d4ff","#7bff7b","#ffe600","#ff4900","#800000"]}}
      }
     },
     {
      "width": 655, "height": 425,
      "title": {"text": "SyncMap", "fontSize": 41, "fontWeight": "normal", "dx": -50, "offset": 30},
      "data": {"name": "links"},
      "transform": [{"filter": "datum.p == 'd'"}],
      "encoding": {
       "color": {"field": "c", "type": "nominal", "legend": null, "scale": {"domain": ["navy","blue","cyan","green","yellow","orange","darkred","black"], "range": ["#000080","#002aff","#00d4ff","#7bff7b","#ffe600","#ff4900","#800000","#000000"]}}
      },
      "layer": [
       {
        "mark": {"type": "rule", "strokeWidth": 2.4, "strokeCap": "square"},
        "encoding": {
         "x": {"field": "xl", "type": "quantitative", "scale": {"domain": [0, 210], "nice": false, "zero": false}, "axis": {"title": null, "values": [5,15,25,35,45,55,65,75,85,95,105,115,125,135,145,155,165,175,185,195,205], "labelExpr": "['1','6','3','4','5','8','9','2','7','13','12','17','16','18','10','14','11','15','19','20','21'][round((datum.value-5)/10)]", "labelAngle": -45, "labelAlign": "center", "labelBaseline": "middle", "labelPadding": 23, "ticks": false, "tickSize": 0, "labelFontSize": 18}},
         "y": {"field": "yl", "type": "quantitative", "scale": {"domain": [0, 14.62], "nice": false, "zero": false}, "axis": {"title": null, "values": [0,2,4,6,8,10,12,14], "labelFontSize": 18, "tickSize": 5, "labelPadding": 8}},
         "y2": {"field": "h"}
        }
       },
       {
        "mark": {"type": "rule", "strokeWidth": 2.4, "strokeCap": "square"},
        "encoding": {
         "x": {"field": "xr", "type": "quantitative", "scale": {"domain": [0, 210], "nice": false, "zero": false}, "axis": {"title": null, "values": [5,15,25,35,45,55,65,75,85,95,105,115,125,135,145,155,165,175,185,195,205], "labelExpr": "['1','6','3','4','5','8','9','2','7','13','12','17','16','18','10','14','11','15','19','20','21'][round((datum.value-5)/10)]", "labelAngle": -45, "labelAlign": "center", "labelBaseline": "middle", "labelPadding": 23, "ticks": false, "tickSize": 0, "labelFontSize": 18}},
         "y": {"field": "yr", "type": "quantitative", "scale": {"domain": [0, 14.62], "nice": false, "zero": false}, "axis": {"title": null, "values": [0,2,4,6,8,10,12,14], "labelFontSize": 18, "tickSize": 5, "labelPadding": 8}},
         "y2": {"field": "h"}
        }
       },
       {
        "mark": {"type": "rule", "strokeWidth": 2.4, "strokeCap": "square"},
        "encoding": {
         "x": {"field": "xl", "type": "quantitative", "scale": {"domain": [0, 210], "nice": false, "zero": false}, "axis": {"title": null, "values": [5,15,25,35,45,55,65,75,85,95,105,115,125,135,145,155,165,175,185,195,205], "labelExpr": "['1','6','3','4','5','8','9','2','7','13','12','17','16','18','10','14','11','15','19','20','21'][round((datum.value-5)/10)]", "labelAngle": -45, "labelAlign": "center", "labelBaseline": "middle", "labelPadding": 23, "ticks": false, "tickSize": 0, "labelFontSize": 18}},
         "x2": {"field": "xr"},
         "y": {"field": "h", "type": "quantitative", "scale": {"domain": [0, 14.62], "nice": false, "zero": false}, "axis": {"title": null, "values": [0,2,4,6,8,10,12,14], "labelFontSize": 18, "tickSize": 5, "labelPadding": 8}}
        }
       }
      ]
     }
    ]
   }
  ]
 }
]
}
